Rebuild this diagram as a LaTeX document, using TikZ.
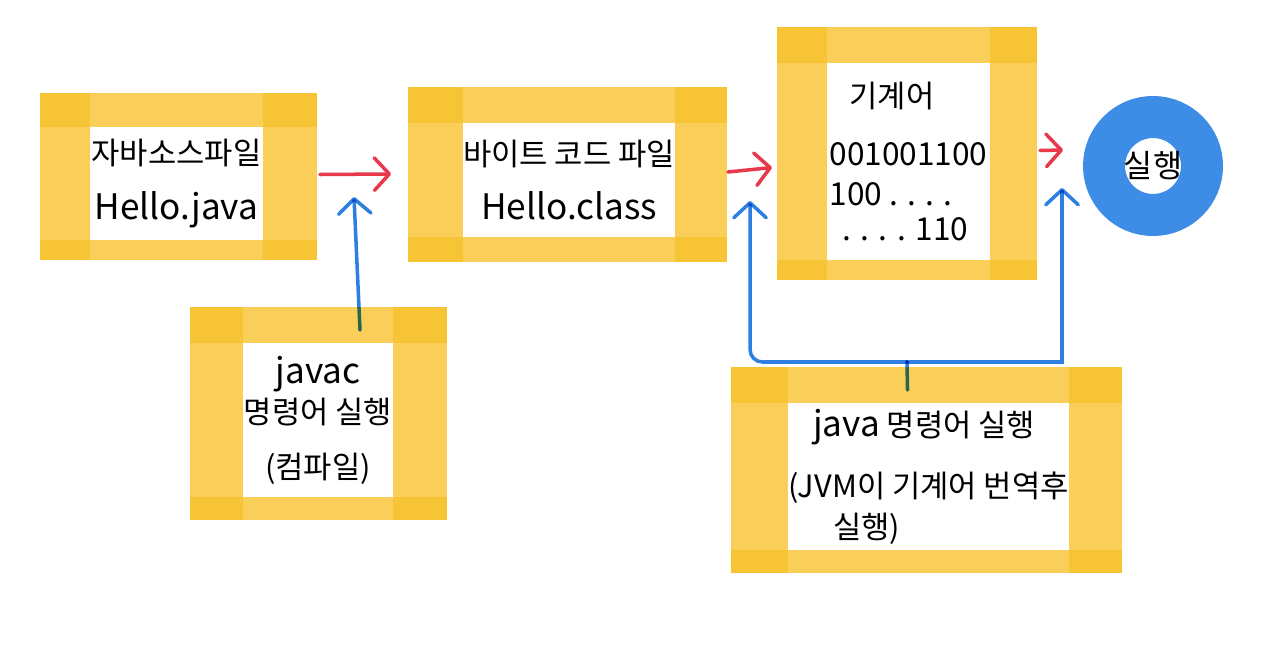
\documentclass[tikz,border=0pt]{standalone}
\usepackage{fontspec}
\newfontfamily\kr{Noto Sans CJK KR}
\usetikzlibrary{calc,arrows.meta}
\definecolor{tape}{HTML}{F7C12B}
\definecolor{penred}{HTML}{E8384C}
\definecolor{penblue}{HTML}{2D7FE0}
\definecolor{ring}{HTML}{3D8CE6}
\newcommand{\lat}{\fontsize{20}{23}\selectfont}
\newcommand{\bin}{\fontsize{18}{23}\selectfont}

\begin{document}
\begin{tikzpicture}[x=0.02cm,y=-0.02cm,>={Straight Barb[length=0.3cm,width=0.65cm,round]},
  card/.style={rectangle,outer sep=0pt,inner sep=0pt,align=center,font=\kr\fontsize{17.5}{23}\selectfont},
  tape/.style={fill=tape,opacity=0.78},
  redpen/.style={penred,line width=2pt,line cap=round,->},
  bluepen/.style={penblue,line width=2pt,line cap=round,->,blend mode=multiply}]
 \useasboundingbox (0,0) rectangle (1280,645);
 % boxes (white inside of each tape frame)
 \node[card,minimum width=3.46cm,minimum height=2.26cm] (src) at (176.5,183.5)
   {자바소스파일\\[8pt]{\lat Hello.java}};
 \node[card,minimum width=4.16cm,minimum height=2.28cm] (byte) at (569,180)
   {바이트 코드 파일\\[8pt]{\lat Hello.class}};
 \node[card,align=left,minimum width=3.26cm,minimum height=3.94cm] (mach) at (908.5,161.5)
   {\hspace*{0.4cm}기계어\\[10pt]{\bin 001001100}\\{\bin 100 . . . .}\\[-3pt]{\bin\hspace*{0.26cm}. . . . 110}};
 \node[card,minimum width=3.0cm,minimum height=3.08cm] (jc) at (318,420)
   {{\lat javac}\\명령어 실행\\[8pt](컴파일)};
 \node[card,align=left,minimum width=5.54cm,minimum height=2.94cm] (jv) at (928.5,476.5)
   {\hspace*{0.5cm}{\lat java} 명령어 실행\\[12pt](JVM이 기계어 번역후\\\hspace*{0.9cm}실행)};
 \node[circle,draw=ring,line width=0.84cm,minimum size=1.96cm,inner sep=0pt,
   font=\kr\fontsize{18}{20}\selectfont] (run) at (1153,166) {실행};
 % tape frames
 \foreach \nn/\lft/\tp/\rgt/\btm in {src/50/34/54/20,byte/55/36/52/25,mach/50/36/47/20,jc/53/36/54/23,jv/57/36/53/23}{
  \fill[tape] ($(\nn.north west)+(-\lft,-\tp)$) rectangle ($(\nn.north east)+(\rgt,0)$);
  \fill[tape] ($(\nn.south west)+(-\lft,0)$) rectangle ($(\nn.south east)+(\rgt,\btm)$);
  \fill[tape] ($(\nn.north west)+(-\lft,-\tp)$) rectangle ($(\nn.south west)+(0,\btm)$);
  \fill[tape] ($(\nn.north east)+(0,-\tp)$) rectangle ($(\nn.south east)+(\rgt,\btm)$);
 }
 % red arrows
 \draw[redpen] ($(src.east)+(57,-9)$) -- ($(byte.west)+(-72,-6)$);
 \draw[redpen] ($(byte.east)+(53,-8)$) -- ($(mach.west)+(-55,6)$);
 \draw[redpen] ($(mach.east)+(50,-11)$) -- ($(run.west)+(-20,-16)$);
 % blue arrows
 \coordinate (jctip) at (354,197);
 \coordinate (split) at (907,362);
 \coordinate (bytetip) at (750,201);
 \coordinate (runtip) at (1062,188);
 \draw[bluepen] ($(jc.north)+(42,-13)$) -- (jctip);
 \draw[bluepen,-] ($(jv.north)+(-21,-13)$) -- (split);
 \draw[bluepen,rounded corners=0.25cm] (split) -| (bytetip);
 \draw[bluepen] (split) -| (runtip);
\end{tikzpicture}
\end{document}
